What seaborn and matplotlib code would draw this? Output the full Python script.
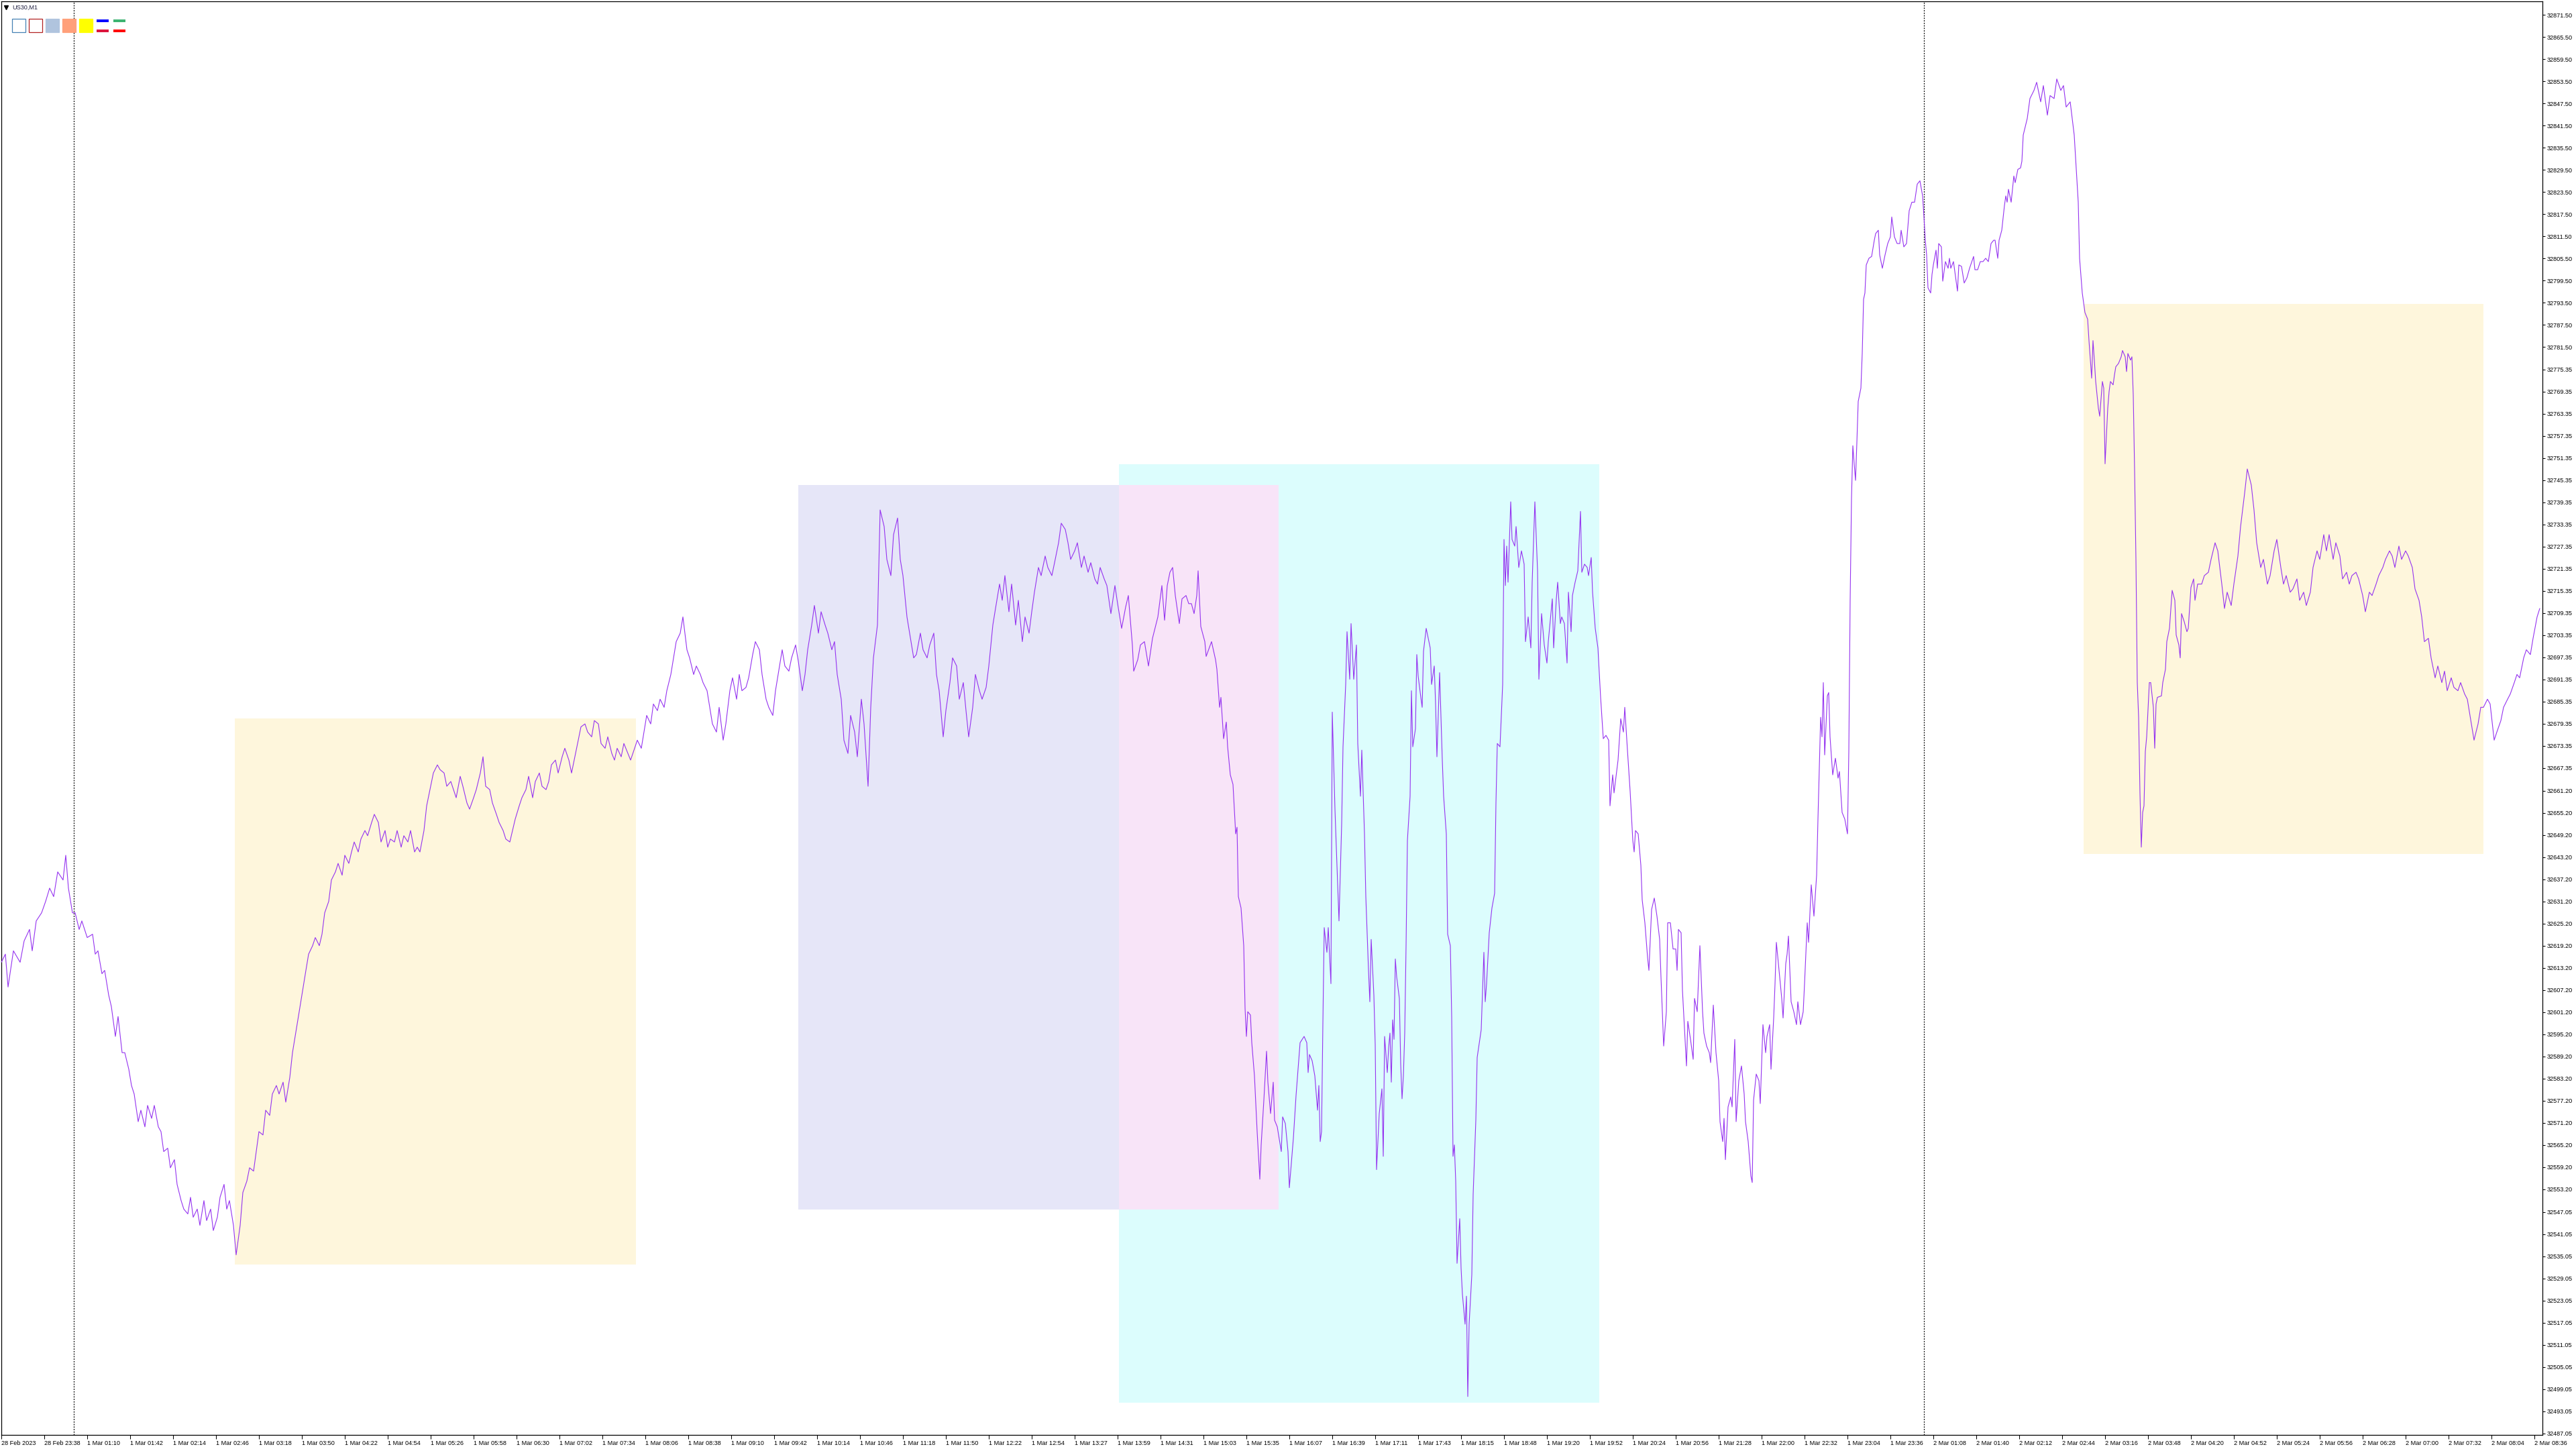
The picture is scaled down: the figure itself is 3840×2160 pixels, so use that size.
import matplotlib
matplotlib.use("Agg")
import matplotlib.pyplot as plt
import matplotlib.transforms as mtransforms
from matplotlib.patches import Rectangle
from matplotlib.lines import Line2D
import pandas as pd
import seaborn as sns

symbol = "US30,M1"

# M1 bar index (bar 0 = first bar on screen) and close price
bar_a = [0, 3, 5, 9, 14, 17, 21, 23, 26, 30,
         33, 36, 39, 42, 46, 48, 50, 53, 55, 58,
         60, 64, 68, 70, 72, 75, 77, 80, 82, 85,
         87, 90, 92, 95, 97, 99, 102, 104, 107, 109,
         112, 114, 117, 119, 121, 124, 126, 129, 131, 134,
         136, 139, 141, 143, 146, 148, 151, 153, 156, 158,
         161, 163, 166, 168, 170, 173, 175, 178, 180, 183,
         185, 188, 190, 192, 195, 197, 200, 202, 205, 207,
         210, 212, 215, 217, 219, 222, 224, 227, 229, 232,
         234, 237, 239, 241, 244, 246, 249, 251, 254, 256,
         259, 261, 263, 266, 268, 271, 273, 276, 278, 281,
         283, 286, 288, 290, 293, 295, 298, 300, 303, 305,
         308, 310, 312, 315, 317, 320, 322, 325, 327, 330,
         332, 335, 337, 339, 342, 344, 347, 349, 352, 354,
         357, 359, 361, 364, 366, 369, 371, 374, 376, 379,
         381, 383, 386, 388, 391, 393, 396, 398, 401, 403,
         406, 408, 410, 413, 415, 418, 420, 423, 425, 428,
         430, 432, 435, 437, 440, 442, 445, 447, 450, 452,
         455, 457, 459, 462, 464, 467, 469, 472, 474, 477,
         479, 481, 484, 486, 489, 491, 494, 496, 499, 501,
         503, 506, 508, 511, 513, 516, 518, 521, 523, 526,
         528, 530, 533, 535, 538, 540, 543, 545, 548, 550,
         552, 555, 557, 560, 562, 565, 567, 570, 572, 575,
         577, 579, 582, 584, 587, 589, 592, 594, 597, 599,
         601, 604, 606, 609, 611, 614, 616, 619, 621, 623,
         626, 628, 631, 633, 636, 638, 641, 643, 646, 648,
         650, 653, 655, 658, 660, 663, 665, 668, 670, 672,
         675, 677, 680, 682, 685, 687, 690, 692, 695, 697,
         699, 702, 704, 707, 709, 712, 714, 717, 719, 721,
         724, 726, 729, 731, 734, 736, 739, 741, 744, 746,
         748, 751, 753, 756, 758, 761, 763, 766, 768, 770,
         773, 775, 778, 780, 783, 785, 788, 790, 793, 795,
         797, 800, 802, 805, 807, 810, 812, 815, 817, 819,
         822]
close_a = [32614.7, 32616.9, 32608.0, 32617.8, 32614.7, 32620.5, 32623.6, 32617.8, 32625.9, 32628.1,
           32631.2, 32634.8, 32632.5, 32639.2, 32637.0, 32643.7, 32634.8, 32628.1, 32628.1, 32623.6,
           32625.9, 32621.4, 32622.3, 32616.9, 32617.8, 32611.6, 32612.5, 32605.8, 32602.7, 32594.6,
           32600.0, 32590.2, 32590.2, 32585.7, 32581.3, 32579.0, 32571.5, 32574.6, 32570.1, 32575.9,
           32572.4, 32575.9, 32570.1, 32568.8, 32563.4, 32564.3, 32559.0, 32561.2, 32554.5, 32550.1,
           32547.8, 32546.5, 32551.0, 32545.6, 32547.8, 32543.4, 32550.1, 32544.7, 32547.8, 32542.0,
           32545.6, 32551.0, 32554.5, 32547.8, 32550.1, 32543.4, 32535.4, 32543.4, 32552.3, 32555.4,
           32559.0, 32558.1, 32563.4, 32568.8, 32567.9, 32574.6, 32573.2, 32579.0, 32581.3, 32579.0,
           32582.2, 32576.8, 32583.5, 32590.2, 32594.6, 32601.3, 32605.8, 32612.5, 32616.9, 32619.2,
           32621.4, 32619.2, 32622.3, 32628.1, 32631.2, 32637.0, 32639.2, 32641.5, 32638.3, 32643.7,
           32641.5, 32644.6, 32647.3, 32644.6, 32648.1, 32650.4, 32649.0, 32652.6, 32654.8, 32652.6,
           32647.3, 32650.4, 32645.9, 32648.1, 32647.3, 32650.4, 32645.9, 32649.0, 32647.3, 32650.4,
           32644.6, 32645.9, 32644.6, 32650.4, 32657.1, 32662.4, 32666.0, 32668.2, 32666.9, 32666.0,
           32662.4, 32663.7, 32661.5, 32659.3, 32665.1, 32662.4, 32657.9, 32656.2, 32659.3, 32661.5,
           32666.0, 32670.4, 32662.4, 32661.5, 32657.9, 32654.8, 32652.6, 32650.4, 32648.1, 32647.3,
           32650.4, 32653.5, 32657.1, 32659.3, 32661.5, 32665.1, 32659.3, 32663.7, 32666.0, 32662.4,
           32661.5, 32663.7, 32668.2, 32669.5, 32666.0, 32670.4, 32672.7, 32669.5, 32666.0, 32671.3,
           32674.9, 32678.5, 32679.3, 32677.1, 32675.8, 32680.2, 32679.3, 32674.0, 32672.7, 32675.8,
           32671.3, 32669.5, 32672.7, 32670.4, 32674.0, 32671.3, 32669.5, 32672.7, 32674.9, 32672.7,
           32677.1, 32681.6, 32679.3, 32684.7, 32682.9, 32686.0, 32683.8, 32688.3, 32692.7, 32697.2,
           32701.6, 32703.9, 32708.3, 32699.4, 32697.2, 32692.7, 32695.0, 32692.7, 32690.5, 32688.3,
           32683.8, 32679.3, 32677.1, 32683.8, 32674.9, 32679.3, 32688.3, 32691.8, 32686.0, 32692.7,
           32688.3, 32689.2, 32691.8, 32698.1, 32701.6, 32699.4, 32692.7, 32686.0, 32683.8, 32681.6,
           32688.3, 32692.7, 32699.4, 32695.0, 32693.6, 32697.2, 32700.7, 32696.3, 32688.3, 32692.7,
           32699.4, 32706.1, 32711.4, 32703.9, 32709.7, 32706.1, 32703.9, 32699.4, 32701.6, 32692.7,
           32686.0, 32674.9, 32671.3, 32681.6, 32677.1, 32670.4, 32686.0, 32679.3, 32662.4, 32683.8,
           32697.2, 32706.1, 32737.3, 32732.8, 32723.9, 32719.5, 32730.6, 32735.1, 32723.9, 32719.5,
           32708.3, 32703.9, 32697.2, 32698.1, 32703.9, 32699.4, 32697.2, 32700.7, 32703.9, 32692.7,
           32688.3, 32675.8, 32682.9, 32690.5, 32697.2, 32695.0, 32686.0, 32690.5, 32682.9, 32675.8,
           32683.8, 32692.7, 32688.3, 32686.0, 32689.2, 32695.0, 32706.1, 32710.6, 32717.2, 32712.8,
           32719.5, 32709.7, 32717.2, 32706.1, 32712.8, 32701.6, 32708.3, 32703.9, 32709.7, 32715.0,
           32721.7, 32719.5, 32724.8, 32721.7, 32719.5, 32723.0, 32728.4, 32733.7, 32732.0, 32728.4,
           32723.9, 32726.2, 32728.4, 32721.7, 32724.8, 32720.4, 32723.0, 32718.6, 32717.2, 32721.7,
           32718.6]

bar_b = [824, 827, 830, 832, 835, 838, 840, 843, 844, 847,
         849, 852, 855, 858, 862, 865, 867, 869, 871, 873,
         875, 878, 880, 883, 885, 887, 889, 891, 892, 894,
         897, 898, 902, 905, 906, 908, 909, 911, 913, 914,
         916, 918, 920, 921, 922, 924, 926, 927, 928, 929,
         931, 932, 934, 936, 938, 939, 941, 943, 944, 946,
         948, 949, 951, 954, 955, 957, 959, 960, 963, 965,
         968, 971, 973, 974, 975, 977, 979, 981, 982, 983,
         984, 985, 986, 988, 989, 991, 992, 994, 995, 997,
         999, 1000, 1002, 1003, 1005, 1006, 1008, 1010, 1011, 1013,
         1014, 1016, 1017, 1019, 1020, 1021, 1023, 1024, 1025, 1027,
         1029, 1030, 1031, 1033, 1034, 1035, 1036, 1037, 1038, 1039,
         1040, 1042, 1043, 1044, 1045, 1046, 1047, 1048, 1050, 1051,
         1052, 1054, 1055, 1056, 1058, 1059, 1060, 1062, 1063, 1065,
         1066, 1068, 1069, 1070, 1071, 1072, 1074, 1075, 1077, 1078,
         1080, 1081, 1082, 1083, 1084, 1085, 1087, 1088, 1089, 1091,
         1092, 1093, 1094, 1096, 1097, 1099, 1100, 1103, 1105, 1106,
         1107, 1109, 1111, 1113, 1114, 1115, 1117, 1119, 1120, 1121,
         1122, 1123, 1125, 1126, 1128, 1129, 1131, 1133, 1135, 1136,
         1138, 1140, 1141, 1143, 1145, 1146, 1148, 1150, 1152, 1153,
         1156, 1157, 1159, 1160, 1162, 1163, 1165, 1167, 1168, 1170,
         1171, 1173, 1175, 1177, 1178, 1180, 1182, 1183, 1185, 1186,
         1188, 1190, 1192, 1194, 1196, 1198, 1199, 1201, 1202, 1205,
         1207, 1209, 1210, 1212, 1214, 1216, 1217, 1218, 1220, 1222,
         1223]
close_b = [32716.8, 32709.2, 32716.8, 32711.9, 32705.2, 32711.0, 32714.1, 32700.7, 32693.6, 32696.7,
           32700.7, 32701.6, 32695.0, 32702.5, 32708.3, 32716.8, 32707.4, 32716.8, 32720.4, 32721.7,
           32714.1, 32706.5, 32713.2, 32714.1, 32711.9, 32711.9, 32709.2, 32714.1, 32720.8, 32705.7,
           32701.6, 32697.6, 32701.6, 32696.7, 32694.1, 32683.8, 32686.5, 32675.3, 32679.8, 32673.1,
           32665.5, 32662.9, 32649.5, 32651.3, 32632.5, 32629.4, 32619.2, 32602.2, 32594.6, 32601.3,
           32600.4, 32592.9, 32583.9, 32568.8, 32555.9, 32565.2, 32577.3, 32590.6, 32582.2, 32573.7,
           32582.2, 32571.9, 32570.1, 32563.4, 32572.8, 32571.0, 32563.4, 32553.6, 32567.0, 32578.6,
           32592.9, 32594.6, 32592.9, 32584.8, 32589.7, 32588.0, 32583.9, 32574.6, 32581.3, 32566.1,
           32568.8, 32598.2, 32624.1, 32617.4, 32624.1, 32608.9, 32682.5, 32656.2, 32645.9, 32625.9,
           32652.2, 32673.1, 32690.0, 32704.3, 32691.4, 32706.5, 32691.4, 32700.7, 32674.0, 32659.7,
           32672.2, 32649.5, 32632.5, 32612.5, 32604.0, 32620.9, 32605.8, 32592.4, 32558.5, 32573.7,
           32580.4, 32562.1, 32594.6, 32584.8, 32591.5, 32595.5, 32582.2, 32599.1, 32593.8, 32615.6,
           32610.7, 32604.9, 32587.1, 32577.7, 32583.9, 32595.5, 32619.2, 32647.7, 32659.7, 32688.3,
           32673.1, 32678.0, 32698.1, 32692.3, 32686.5, 32683.8, 32699.0, 32705.2, 32703.4, 32699.9,
           32690.0, 32695.0, 32684.7, 32670.4, 32681.6, 32693.2, 32669.5, 32659.7, 32649.5, 32622.3,
           32619.2, 32600.0, 32562.1, 32565.2, 32555.4, 32533.1, 32545.2, 32531.8, 32524.7, 32516.6,
           32524.2, 32497.0, 32516.6, 32530.0, 32551.8, 32571.9, 32588.9, 32596.4, 32617.4, 32604.0,
           32608.9, 32622.7, 32629.4, 32633.4, 32657.9, 32674.0, 32673.1, 32690.0, 32729.3, 32716.8,
           32727.5, 32717.7, 32739.5, 32729.3, 32727.5, 32732.8, 32721.7, 32726.2, 32722.6, 32701.6,
           32708.3, 32699.9, 32717.7, 32739.5, 32720.8, 32691.4, 32709.2, 32700.7, 32695.8, 32701.6,
           32713.2, 32699.9, 32713.2, 32717.7, 32706.5, 32708.3, 32706.5, 32695.8, 32715.0, 32704.3,
           32714.1, 32717.7, 32720.8, 32736.9, 32720.4, 32722.6, 32721.7, 32719.5, 32724.4, 32715.0,
           32705.2, 32699.9, 32686.5, 32675.3, 32676.2, 32674.9, 32657.1, 32665.5, 32660.6, 32669.5,
           32680.7, 32677.1, 32683.8, 32672.2, 32661.1, 32647.7, 32644.6, 32650.4, 32649.5, 32641.0,
           32631.6]

bar_c = [1225, 1227, 1228, 1230, 1232, 1234, 1236, 1237, 1239, 1241,
         1242, 1244, 1246, 1248, 1249, 1250, 1252, 1253, 1256, 1257,
         1259, 1261, 1262, 1264, 1266, 1268, 1269, 1271, 1273, 1274,
         1276, 1278, 1280, 1281, 1283, 1284, 1285, 1287, 1289, 1290,
         1292, 1293, 1295, 1297, 1299, 1300, 1302, 1304, 1305, 1306,
         1308, 1310, 1311, 1313, 1315, 1316, 1318, 1319, 1321, 1322,
         1323, 1325, 1327, 1328, 1330, 1331, 1332, 1334, 1336, 1338,
         1339, 1341, 1343, 1344, 1346, 1347, 1349, 1351, 1353, 1354,
         1356, 1357, 1358, 1359, 1361, 1362, 1363, 1365, 1367, 1369,
         1370, 1372, 1374, 1376, 1377, 1378, 1379, 1380, 1381, 1382,
         1383, 1384, 1386, 1387, 1388, 1389, 1390, 1392, 1394, 1396,
         1397, 1399, 1400, 1402, 1404, 1406, 1408, 1409, 1411, 1413,
         1415, 1416, 1418, 1420, 1422, 1424, 1426, 1428, 1430, 1432,
         1433, 1434, 1435, 1436, 1438, 1439, 1440, 1442, 1443, 1444,
         1446, 1447, 1449, 1451, 1452, 1453, 1455, 1456, 1458, 1459,
         1461, 1463, 1465, 1467, 1470, 1471, 1473, 1475, 1477, 1479,
         1481, 1483, 1485, 1486, 1488, 1489, 1491, 1493, 1494, 1495,
         1496, 1498, 1500, 1501, 1503, 1505, 1506, 1507, 1510, 1512,
         1515, 1517, 1520, 1522, 1525, 1527, 1530, 1532, 1535, 1537,
         1539, 1542, 1545, 1548, 1549, 1551, 1553, 1555, 1556, 1558,
         1559, 1560, 1561, 1563, 1564, 1566, 1567, 1568, 1570, 1571,
         1572, 1574, 1575, 1576, 1578, 1580, 1581, 1583, 1584, 1585,
         1587, 1588, 1589, 1590, 1591, 1592, 1593, 1594, 1595, 1596,
         1597, 1598, 1599, 1601, 1602, 1604, 1605, 1606, 1607, 1610,
         1611, 1613, 1614, 1616, 1618, 1620, 1621, 1623, 1624, 1625,
         1627, 1629, 1630, 1632, 1634, 1635, 1637, 1638]
close_c = [32625.4, 32616.0, 32612.5, 32629.0, 32632.1, 32627.2, 32620.9, 32610.7, 32592.0, 32601.3,
           32625.4, 32625.4, 32618.3, 32618.3, 32612.5, 32623.6, 32622.7, 32607.1, 32586.6, 32598.7,
           32593.8, 32588.4, 32604.9, 32601.3, 32619.2, 32601.3, 32595.5, 32592.0, 32590.2, 32587.5,
           32603.1, 32590.2, 32582.6, 32571.5, 32566.1, 32572.4, 32561.2, 32575.5, 32578.2, 32575.5,
           32593.8, 32571.5, 32582.6, 32586.6, 32579.0, 32571.5, 32566.1, 32556.8, 32555.0, 32577.3,
           32584.4, 32582.6, 32576.4, 32597.8, 32590.2, 32594.6, 32597.8, 32585.7, 32599.6, 32608.9,
           32620.1, 32612.5, 32604.9, 32599.6, 32614.3, 32616.9, 32621.8, 32604.0, 32601.3, 32597.8,
           32604.0, 32597.8, 32601.3, 32608.9, 32625.4, 32620.1, 32635.7, 32627.2, 32638.3, 32653.5,
           32681.1, 32675.8, 32690.5, 32670.9, 32686.9, 32687.8, 32675.8, 32665.5, 32670.0, 32664.6,
           32666.4, 32655.3, 32653.5, 32649.5, 32671.8, 32712.8, 32740.4, 32754.7, 32749.8, 32745.3,
           32755.6, 32766.7, 32770.3, 32779.7, 32794.4, 32796.1, 32803.7, 32805.5, 32806.0, 32810.4,
           32812.2, 32813.1, 32806.4, 32802.8, 32806.4, 32809.5, 32811.3, 32816.7, 32811.3, 32809.5,
           32809.5, 32813.1, 32808.6, 32809.5, 32818.4, 32820.7, 32820.7, 32825.6, 32826.5, 32822.4,
           32816.7, 32810.4, 32806.4, 32797.5, 32796.1, 32801.1, 32803.7, 32807.7, 32802.8, 32809.5,
           32808.6, 32799.3, 32804.6, 32802.8, 32805.5, 32802.8, 32804.6, 32801.9, 32796.6, 32803.7,
           32803.3, 32798.8, 32800.2, 32802.8, 32806.0, 32802.4, 32802.4, 32804.6, 32804.6, 32805.5,
           32804.6, 32809.5, 32810.4, 32810.4, 32805.5, 32810.4, 32813.1, 32819.8, 32822.4, 32820.7,
           32824.2, 32820.7, 32827.8, 32826.0, 32829.6, 32830.0, 32831.8, 32838.9, 32843.4, 32848.8,
           32851.0, 32853.2, 32847.9, 32852.3, 32844.3, 32849.6, 32848.8, 32854.1, 32851.0, 32852.3,
           32846.5, 32847.9, 32838.9, 32820.7, 32805.5, 32796.1, 32790.8, 32789.0, 32783.2, 32773.0,
           32783.2, 32777.9, 32772.1, 32764.9, 32762.7, 32772.1, 32770.3, 32749.8, 32764.9, 32769.4,
           32772.1, 32771.2, 32773.9, 32776.1, 32777.0, 32778.8, 32780.5, 32778.8, 32774.8, 32779.7,
           32777.9, 32778.8, 32768.5, 32748.0, 32723.9, 32690.5, 32681.1, 32660.6, 32645.9, 32655.3,
           32657.1, 32671.8, 32675.8, 32690.5, 32690.5, 32683.8, 32672.7, 32684.7, 32686.5, 32686.9,
           32690.5, 32694.1, 32701.6, 32705.2, 32715.5, 32712.8, 32703.4, 32700.7, 32697.2, 32709.2,
           32707.0, 32704.3, 32705.2, 32716.3, 32718.6, 32712.8, 32717.2, 32717.2]

bar_d = [1640, 1642, 1645, 1647, 1650, 1652, 1655, 1657, 1659, 1662,
         1664, 1667, 1669, 1672, 1674, 1677, 1679, 1681, 1684, 1686,
         1689, 1691, 1694, 1696, 1699, 1701, 1703, 1706, 1708, 1711,
         1713, 1716, 1718, 1721, 1723, 1726, 1728, 1731, 1733, 1735,
         1738, 1740, 1743, 1745, 1748, 1750, 1752, 1755, 1757, 1760,
         1762, 1765, 1767, 1770, 1772, 1775, 1777, 1780, 1782, 1784,
         1787, 1789, 1792, 1794, 1797, 1799, 1802, 1804, 1806, 1809,
         1811, 1814, 1816, 1819, 1821, 1823, 1826, 1828, 1831, 1833,
         1836, 1838, 1841, 1843, 1846, 1848, 1850, 1853, 1855, 1858,
         1860, 1863, 1865, 1868, 1870, 1873, 1875, 1877, 1880, 1882,
         1885, 1887, 1890, 1892]
close_d = [32717.2, 32719.5, 32720.4, 32723.9, 32728.4, 32726.2, 32717.2, 32710.6, 32715.0, 32711.4,
           32717.2, 32724.8, 32732.8, 32741.8, 32748.4, 32744.0, 32737.3, 32728.4, 32721.7, 32723.9,
           32717.2, 32719.5, 32726.2, 32729.3, 32721.7, 32717.2, 32719.5, 32715.0, 32715.9, 32718.6,
           32712.8, 32715.0, 32711.4, 32715.0, 32721.7, 32726.2, 32723.9, 32730.6, 32726.2, 32730.6,
           32723.9, 32728.4, 32724.8, 32718.6, 32720.4, 32717.2, 32719.5, 32720.4, 32718.6, 32714.1,
           32709.7, 32715.0, 32714.1, 32717.2, 32719.5, 32721.7, 32723.9, 32726.2, 32724.8, 32721.7,
           32727.5, 32723.9, 32726.2, 32724.8, 32721.7, 32715.9, 32712.8, 32708.3, 32701.6, 32702.5,
           32697.2, 32691.8, 32695.0, 32690.5, 32693.6, 32688.3, 32691.8, 32689.2, 32688.3, 32690.5,
           32687.4, 32686.0, 32679.3, 32674.9, 32679.3, 32683.8, 32683.8, 32686.0, 32684.7, 32674.9,
           32677.1, 32680.2, 32683.8, 32686.0, 32687.4, 32690.5, 32692.7, 32691.8, 32697.2, 32699.4,
           32698.1, 32702.5, 32708.3, 32710.6]

# session boxes drawn on the chart (bar range and price range)
box_start = [833, 594, 833, 174, 1552]
box_end = [1191, 833, 952, 473, 1850]
box_low = [32495.4, 32547.7, 32547.7, 32532.7, 32644.1]
box_high = [32749.7, 32744.1, 32744.1, 32680.7, 32793.2]
box_color = ["#dcfdfd", "#e6e6f8", "#f8e4f8", "#fef6dc", "#fef6dc"]

day_breaks = [54, 1433]

time_labels = [
    "28 Feb 2023", "28 Feb 23:38", "1 Mar 01:10", "1 Mar 01:42", "1 Mar 02:14",
    "1 Mar 02:46", "1 Mar 03:18", "1 Mar 03:50", "1 Mar 04:22", "1 Mar 04:54",
    "1 Mar 05:26", "1 Mar 05:58", "1 Mar 06:30", "1 Mar 07:02", "1 Mar 07:34",
    "1 Mar 08:06", "1 Mar 08:38", "1 Mar 09:10", "1 Mar 09:42", "1 Mar 10:14",
    "1 Mar 10:46", "1 Mar 11:18", "1 Mar 11:50", "1 Mar 12:22", "1 Mar 12:54",
    "1 Mar 13:27", "1 Mar 13:59", "1 Mar 14:31", "1 Mar 15:03", "1 Mar 15:35",
    "1 Mar 16:07", "1 Mar 16:39", "1 Mar 17:11", "1 Mar 17:43", "1 Mar 18:15",
    "1 Mar 18:48", "1 Mar 19:20", "1 Mar 19:52", "1 Mar 20:24", "1 Mar 20:56",
    "1 Mar 21:28", "1 Mar 22:00", "1 Mar 22:32", "1 Mar 23:04", "1 Mar 23:36",
    "2 Mar 01:08", "2 Mar 01:40", "2 Mar 02:12", "2 Mar 02:44", "2 Mar 03:16",
    "2 Mar 03:48", "2 Mar 04:20", "2 Mar 04:52", "2 Mar 05:24", "2 Mar 05:56",
    "2 Mar 06:28", "2 Mar 07:00", "2 Mar 07:32", "2 Mar 08:04", "2 Mar 08:36",
]

price_labels = [
    "32871.50", "32865.50", "32859.50", "32853.50", "32847.50", "32841.50", "32835.50", "32829.50",
    "32823.50", "32817.50", "32811.50", "32805.50", "32799.50", "32793.50", "32787.50", "32781.50",
    "32775.35", "32769.35", "32763.35", "32757.35", "32751.35", "32745.35", "32739.35", "32733.35",
    "32727.35", "32721.35", "32715.35", "32709.35", "32703.35", "32697.35", "32691.35", "32685.35",
    "32679.35", "32673.35", "32667.35",
    "32661.20", "32655.20", "32649.20", "32643.20", "32637.20", "32631.20", "32625.20", "32619.20",
    "32613.20", "32607.20", "32601.20", "32595.20", "32589.20", "32583.20", "32577.20", "32571.20",
    "32565.20", "32559.20", "32553.20",
    "32547.05", "32541.05", "32535.05", "32529.05", "32523.05", "32517.05", "32511.05", "32505.05",
    "32499.05", "32493.05", "32487.05",
]

line_color = "#9533f0"

df = pd.DataFrame({
    "bar": bar_a + bar_b + bar_c + bar_d,
    "close": close_a + close_b + close_c + close_d,
})

sns.set_style("white")
plt.rcParams["font.family"] = ["Liberation Sans", "DejaVu Sans"]

W, H, DPI = 3840, 2160, 100
fig = plt.figure(figsize=(W / DPI, H / DPI), dpi=DPI)
fig.patch.set_facecolor("white")


def fx(px):
    return px / W


def fy(py):
    return 1 - py / H


# chart window: left 2, top 2, right 3790, bottom 2139 (pixels)
ax = fig.add_axes([fx(2), fy(2139), fx(3790) - fx(2), fy(2) - fy(2139)])
ax.set_facecolor("white")

for x0, x1, lo, hi, c in zip(box_start, box_end, box_low, box_high, box_color):
    ax.add_patch(Rectangle((x0, lo), x1 - x0, hi - lo, facecolor=c,
                           edgecolor="none", zorder=0.5))

for b in day_breaks:
    ax.axvline(b, color="black", lw=0.9, ls=(0, (1.5, 1.5)), zorder=1)

sns.lineplot(data=df, x="bar", y="close", ax=ax, color=line_color,
             linewidth=0.8, estimator=None, sort=False, zorder=3)

ax.set_xlim(0, 1894)
ax.set_ylim(32486.6, 32875.14)
ax.set_xlabel("")
ax.set_ylabel("")

ax.set_xticks([32 * i for i in range(len(time_labels))])
ax.set_xticklabels(time_labels, ha="left")
shift = mtransforms.ScaledTranslation(1.5 / DPI, 0, fig.dpi_scale_trans)
for t in ax.get_xticklabels():
    t.set_transform(t.get_transform() + shift)
ax.tick_params(axis="x", bottom=True, direction="out", length=4, width=0.75,
               pad=1.5, labelsize=6.6, colors="black")

ax.yaxis.tick_right()
ax.set_yticks([float(s) for s in price_labels])
ax.set_yticklabels(price_labels)
ax.tick_params(axis="y", right=True, left=False, direction="out", length=3,
               width=0.75, pad=2, labelsize=6.6, colors="black")

for s in ax.spines.values():
    s.set_visible(True)
    s.set_color("black")
    s.set_linewidth(0.9)

# header: symbol and object buttons in the top-left corner
fig.add_artist(Line2D([fx(9)], [fy(11)], marker="v", markersize=4.5,
                      color="black", transform=fig.transFigure))
fig.text(fx(18), fy(11), symbol, fontsize=6.6, color="#1e1e40",
         ha="left", va="center")

squares = [("white", "#4682b4"), ("white", "#b22222"), ("#b0c4de", "#b0c4de"),
           ("#ffa07a", "#ffa07a"), ("#ffff00", "#ffff00")]
for i, (fc, ec) in enumerate(squares):
    x0 = 18 + 25 * i
    fig.add_artist(Rectangle((fx(x0), fy(48)), fx(20), 20 / H, facecolor=fc,
                             edgecolor=ec, lw=0.9, transform=fig.transFigure))

for x0, top, bottom in [(144, "#0000ff", "#dc143c"), (169, "#3cb371", "#ff0000")]:
    for y, c in [(31, top), (46, bottom)]:
        fig.add_artist(Line2D([fx(x0), fx(x0 + 18)], [fy(y), fy(y)], lw=2.9,
                              color=c, solid_capstyle="butt",
                              transform=fig.transFigure))

fig.savefig("out.png", dpi=DPI)
